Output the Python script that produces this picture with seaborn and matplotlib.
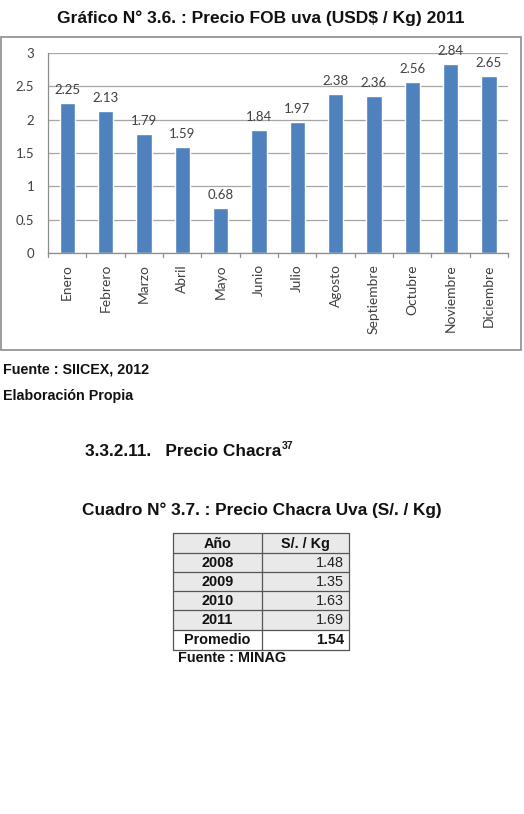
import matplotlib
matplotlib.use("Agg")
import matplotlib.pyplot as plt
import seaborn as sns
import pandas as pd
from matplotlib.patches import Rectangle

meses = ["Enero", "Febrero", "Marzo", "Abril", "Mayo", "Junio", "Julio",
         "Agosto", "Septiembre", "Octubre", "Noviembre", "Diciembre"]
precio_fob = [2.25, 2.13, 1.79, 1.59, 0.68, 1.84, 1.97, 2.38, 2.36, 2.56, 2.84, 2.65]
y_ticks = [0, 0.5, 1, 1.5, 2, 2.5, 3]
y_tick_labels = ["0", "0.5", "1", "1.5", "2", "2.5", "3"]

tabla_anios = ["2008", "2009", "2010", "2011", "Promedio"]
tabla_valores = ["1.48", "1.35", "1.63", "1.69", "1.54"]
tabla_header = ["Año", "S/. / Kg"]

sns.set_theme(style="white")
plt.rcParams['font.family'] = ['Liberation Sans', 'DejaVu Sans']

W, H = 524, 814
fig = plt.figure(figsize=(W / 100, H / 100), dpi=100)
fig.patch.set_facecolor("white")

bg = fig.add_axes([0, 0, 1, 1])
bg.set_xlim(0, W)
bg.set_ylim(H, 0)
bg.axis("off")

bg.add_patch(Rectangle((1, 37), 520, 313, fill=False, edgecolor="#8c8c8c", lw=1.2))

bold = dict(family=['Liberation Sans', 'DejaVu Sans'], fontweight="bold", color="#111111")
bg.text(261, 18, "Gráfico N° 3.6. : Precio FOB uva (USD$ / Kg) 2011", ha="center", va="center",
        fontsize=12.5, **bold)
bg.text(3, 370, "Fuente : SIICEX, 2012", ha="left", va="center", fontsize=10.3, **bold)
bg.text(3, 396, "Elaboración Propia", ha="left", va="center", fontsize=10.3, **bold)
sec = bg.text(85, 452, "3.3.2.11.   Precio Chacra", ha="left", va="center", fontsize=12.4, **bold)
bg.text(262, 510, "Cuadro N° 3.7. : Precio Chacra Uva (S/. / Kg)", ha="center", va="center",
        fontsize=12.4, **bold)

# table
x0, xm, x1 = 173, 262, 349
row_lines = [533, 553, 572, 591, 610, 630, 650]
bg.add_patch(Rectangle((x0, 533), x1 - x0, 97, facecolor="#e9e9e9", edgecolor="none"))
for yt in row_lines:
    bg.plot([x0, x1], [yt, yt], color="#555555", lw=0.9)
for xx in (x0, xm, x1):
    bg.plot([xx, xx], [533, 650], color="#555555", lw=0.9)
tfs = 10.4
bg.text((x0 + xm) / 2, 544, tabla_header[0], ha="center", va="center", fontsize=tfs, **bold)
bg.text((xm + x1) / 2, 544, tabla_header[1], ha="center", va="center", fontsize=tfs, **bold)
centers = [563, 582, 601, 620, 640]
for i, (a, v) in enumerate(zip(tabla_anios, tabla_valores)):
    bg.text((x0 + xm) / 2, centers[i], a, ha="center", va="center", fontsize=tfs, **bold)
    if a == "Promedio":
        bg.text(x1 - 5, centers[i], v, ha="right", va="center", fontsize=tfs, **bold)
    else:
        bg.text(x1 - 5, centers[i], v, ha="right", va="center", fontsize=tfs,
                family=['Liberation Sans', 'DejaVu Sans'], color="#222222")
bg.text(178, 658, "Fuente : MINAG", ha="left", va="center", fontsize=tfs, **bold)

# bar chart
left, right, top, bottom = 48, 508, 53, 253
ax = fig.add_axes([left / W, 1 - bottom / H, (right - left) / W, (bottom - top) / H])
df = pd.DataFrame({"mes": meses, "precio": precio_fob})
sns.barplot(data=df, x="mes", y="precio", color="#4F81BD", saturation=1, width=0.4, ax=ax)
ax.set_ylim(0, 3)
ax.set_xlim(-0.5, len(meses) - 0.5)
ax.set_yticks(y_ticks)
ax.set_yticklabels(y_tick_labels)
ax.set_xlabel("")
ax.set_ylabel("")
ax.grid(axis="y", color="#a6a6a6", lw=0.9)
ax.set_axisbelow(True)
for s in ["top", "right"]:
    ax.spines[s].set_visible(False)
for s in ["left", "bottom"]:
    ax.spines[s].set_color("#8c8c8c")
    ax.spines[s].set_linewidth(0.9)
lbl_font = ['Lato', 'DejaVu Sans']
ax.tick_params(axis="y", length=4, color="#8c8c8c", labelsize=9.5, labelcolor="#404040", pad=6)
ax.set_xticks(range(len(meses)))
ax.set_xticklabels(meses, rotation=90, fontsize=9.9, color="#404040", family=lbl_font)
for t in ax.get_yticklabels():
    t.set_family(lbl_font)
ax.tick_params(axis="x", length=0, pad=8)
for b in range(len(meses) + 1):
    ax.plot([b - 0.5, b - 0.5], [0, -0.06], color="#8c8c8c", lw=0.9, clip_on=False)
for c in ax.containers:
    ax.bar_label(c, labels=[f"{v:.2f}" for v in precio_fob], padding=5, fontsize=9.5,
                 color="#404040", family=lbl_font)

fig.canvas.draw()
ext = sec.get_window_extent(renderer=fig.canvas.get_renderer())
bg.text(ext.x1 + 1, 446, "37", ha="left", va="center", fontsize=7.5, **bold)

fig.savefig("out.png", dpi=100, facecolor="white")
